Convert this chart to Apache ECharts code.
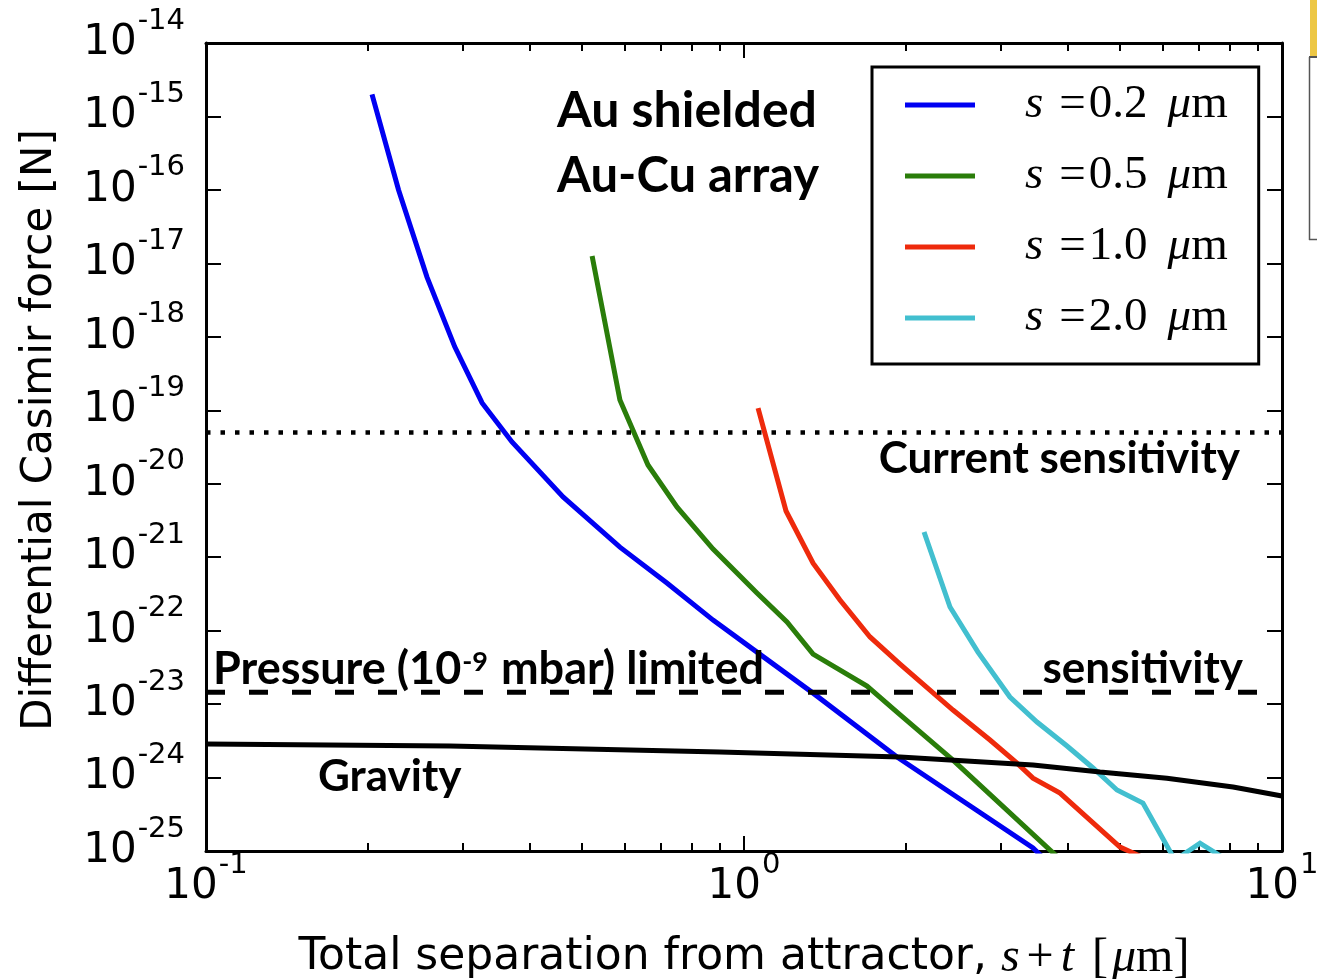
<!DOCTYPE html>
<html>
<head>
<meta charset="utf-8">
<title>Differential Casimir force vs separation</title>
<script src="https://cdn.jsdelivr.net/npm/echarts@6/dist/echarts.min.js"></script>
<style>
  html, body { margin: 0; padding: 0; background: #fff; }
  #chart { width: 1317px; height: 979px; }
</style>
</head>
<body>
<div id="chart"></div>
<script>
// Separation s+t in micrometres, force in newtons.
const sepBlue  = [0.2035, 0.228, 0.2575, 0.290, 0.326, 0.3705, 0.461, 0.588, 0.719, 0.876, 1.057, 1.344, 1.925, 3.445, 3.63];
const forceBlue = [2.0e-15, 1.0e-16, 6.5e-18, 7.3e-19, 1.26e-19, 3.7e-20, 6.6e-21, 1.37e-21, 4.45e-22, 1.39e-22, 5.1e-23, 1.41e-23, 1.9e-24, 1.1e-25, 7.6e-26];

const sepGreen  = [0.522, 0.588, 0.663, 0.751, 0.876, 1.057, 1.202, 1.344, 1.693, 1.925, 2.446, 3.706, 3.87];
const forceGreen = [1.26e-17, 1.38e-19, 1.8e-20, 4.8e-21, 1.29e-21, 3.25e-22, 1.31e-22, 4.8e-23, 1.76e-23, 7.8e-24, 1.73e-24, 1.03e-25, 7.7e-26];

const sepRed  = [1.062, 1.197, 1.344, 1.508, 1.715, 1.95, 2.446, 2.866, 3.217, 3.445, 3.867, 4.397, 5.0, 5.45];
const forceRed = [1.07e-19, 4.25e-21, 8.3e-22, 2.61e-22, 8.2e-23, 3.5e-23, 8.3e-24, 3.24e-24, 1.57e-24, 9.8e-25, 6.15e-25, 2.64e-25, 1.13e-25, 8.5e-26];

const sepCyan  = [2.161, 2.415, 2.722, 3.121, 3.504, 3.985, 4.454, 4.935, 5.515, 6.325, 7.04, 8.0];
const forceCyan = [2.2e-21, 2.1e-22, 5.1e-23, 1.25e-23, 5.7e-24, 2.69e-24, 1.35e-24, 6.76e-25, 4.5e-25, 7.5e-26, 1.28e-25, 7.1e-26];

const sepGravity  = [0.1, 0.284, 0.902, 1.95, 3.445, 4.59, 6.11, 8.11, 10];
const forceGravity = [2.86e-24, 2.69e-24, 2.22e-24, 1.9e-24, 1.48e-24, 1.19e-24, 9.8e-25, 7.43e-25, 5.6e-25];

const sepRange = [0.1, 10];
const currentSensitivity = 5e-20;
const pressureLimit = 1.45e-23;

const legendNames = ['0.2', '0.5', '1.0', '2.0'];
const xTickExponents = [-1, 0, 1];
const yTickExponents = [-25, -24, -23, -22, -21, -20, -19, -18, -17, -16, -15, -14];

// Both axes are decades: values are plotted as log10 on linear value axes.
const lg = Math.log10;
const toPairs = (xs, ys) => xs.map((x, i) => [lg(x), lg(ys[i])]);

const minorX = [];
for (let d = -1; d < 1; d++) {
  for (let k = 2; k <= 9; k++) minorX.push(d + lg(k));
}

const NUM_FONT = 'DejaVu Sans';
const MATH_FONT = 'Liberation Serif';
const NOTE_FONT = 'Lato';

// "10" sits centred in a tall line; the exponent hugs the top of that line.
const powRich = {
  b: { fontFamily: NUM_FONT, fontSize: 42, lineHeight: 73, color: '#000' },
  s: { fontFamily: NUM_FONT, fontSize: 29, lineHeight: 20, verticalAlign: 'top', color: '#000', padding: [0, 0, 0, 1] }
};
const powLabel = v => '{b|10}{s|' + Math.round(v) + '}';

const axisLineStyle = { color: '#000', width: 3 };
const tickStyle = { color: '#000', width: 2 };

function xAxisDef(position, major, withLabels) {
  const ax = {
    type: 'value', min: lg(sepRange[0]), max: lg(sepRange[1]), interval: 1,
    position: position, gridIndex: 0,
    axisLine: { show: major, onZero: false, lineStyle: axisLineStyle },
    axisTick: major
      ? { show: true, inside: true, length: 15, lineStyle: tickStyle }
      : { show: true, inside: true, length: 8, lineStyle: tickStyle, customValues: minorX },
    axisLabel: { show: false },
    splitLine: { show: false }
  };
  if (withLabels) {
    ax.axisLabel = {
      show: true, margin: 0, formatter: powLabel, rich: powRich,
      customValues: xTickExponents
    };
    ax.name = '{n|Total separation from attractor, }{m|s}{p|+}{m|t}{lb|[}{m|μ}{u|m]}';
    ax.nameLocation = 'middle';
    ax.nameGap = 82;
    ax.nameTextStyle = {
      rich: {
        n: { fontFamily: NUM_FONT, fontSize: 44, lineHeight: 50, color: '#000' },
        m: { fontFamily: MATH_FONT, fontStyle: 'italic', fontSize: 48, lineHeight: 50, color: '#000' },
        p: { fontFamily: MATH_FONT, fontSize: 48, lineHeight: 50, color: '#000', padding: [0, 7, 0, 7] },
        lb: { fontFamily: MATH_FONT, fontSize: 48, lineHeight: 50, color: '#000', padding: [0, 4, 0, 18] },
        u: { fontFamily: MATH_FONT, fontSize: 48, lineHeight: 50, color: '#000' }
      }
    };
  }
  return ax;
}

function yAxisDef(position, withLabels) {
  const ax = {
    type: 'value', min: yTickExponents[0], max: yTickExponents[yTickExponents.length - 1], interval: 1,
    position: position, gridIndex: 0,
    axisLine: { show: true, onZero: false, lineStyle: axisLineStyle },
    axisTick: { show: true, inside: true, length: 15, lineStyle: tickStyle },
    axisLabel: { show: false },
    splitLine: { show: false }
  };
  if (withLabels) {
    ax.axisLabel = { show: true, margin: 21, formatter: powLabel, rich: powRich };
    ax.name = 'Differential Casimir force [N]';
    ax.nameLocation = 'middle';
    ax.nameGap = 145;
    ax.nameTextStyle = { fontFamily: NUM_FONT, fontSize: 42, color: '#000', padding: [0, 0, 0, 34] };
  }
  return ax;
}

const curveColors = ['#0000f2', '#2a7d0a', '#ee2a0c', '#42bfcf'];
const curves = [
  [sepBlue, forceBlue], [sepGreen, forceGreen], [sepRed, forceRed], [sepCyan, forceCyan]
];

const series = curves.map((c, i) => ({
  name: legendNames[i],
  type: 'line',
  data: toPairs(c[0], c[1]),
  symbol: 'none',
  clip: true,
  z: 2 + i,
  lineStyle: { color: curveColors[i], width: 5, cap: 'butt', join: 'miter' },
  itemStyle: { color: curveColors[i] }
}));

series.push({
  name: 'Gravity', type: 'line', data: toPairs(sepGravity, forceGravity),
  symbol: 'none', clip: true, z: 8,
  lineStyle: { color: '#000', width: 5 }
});
series.push({
  name: 'Current sensitivity', type: 'line',
  data: toPairs(sepRange, [currentSensitivity, currentSensitivity]),
  symbol: 'none', clip: true, z: 9,
  lineStyle: { color: '#000', width: 4.5, type: [4.5, 10], cap: 'butt' }
});
series.push({
  name: 'Pressure limited', type: 'line',
  data: toPairs(sepRange, [pressureLimit, pressureLimit]),
  symbol: 'none', clip: true, z: 9,
  lineStyle: { color: '#000', width: 5, type: [19, 24], cap: 'butt' }
});

const noteFont = size => 'bold ' + size + 'px ' + NOTE_FONT;
function note(text, x, y, size, align) {
  return {
    type: 'text', x: x, y: y, z: 100,
    style: { text: text, font: noteFont(size), fill: '#000', align: align || 'left', verticalAlign: 'middle' }
  };
}

const option = {
  animation: false,
  backgroundColor: '#fff',
  grid: {
    left: 206, top: 43, width: 1076, height: 808,
    containLabel: false, outerBoundsMode: 'none'
  },
  xAxis: [
    xAxisDef('bottom', true, true),
    xAxisDef('bottom', false, false),
    xAxisDef('top', true, false),
    xAxisDef('top', false, false)
  ],
  yAxis: [yAxisDef('left', true), yAxisDef('right', false)],
  legend: {
    data: legendNames,
    orient: 'vertical',
    left: 872, top: 67,
    padding: [13, 31, 21, 33],
    itemGap: 21,
    itemWidth: 70, itemHeight: 5,
    icon: 'rect',
    backgroundColor: '#fff',
    borderColor: '#000', borderWidth: 3, borderRadius: 0,
    selectedMode: false,
    formatter: name => '{it|s}{eq|=}{rm|' + name + '}{mu|μ}{rm|m}',
    textStyle: {
      padding: [0, 0, 0, 45],
      lineHeight: 50,
      rich: {
        it: { fontFamily: MATH_FONT, fontStyle: 'italic', fontSize: 47, lineHeight: 50, color: '#000' },
        eq: { fontFamily: MATH_FONT, fontSize: 47, lineHeight: 50, color: '#000', padding: [0, 3, 0, 16] },
        mu: { fontFamily: MATH_FONT, fontStyle: 'italic', fontSize: 47, lineHeight: 50, color: '#000', padding: [0, 0, 0, 20] },
        rm: { fontFamily: MATH_FONT, fontSize: 47, lineHeight: 50, color: '#000' }
      }
    }
  },
  series: series,
  graphic: [
    note('Au shielded', 557, 111, 50),
    note('Au-Cu array', 557, 176, 49),
    note('Current sensitivity', 1240, 459, 44, 'right'),
    note('sensitivity', 1243, 669, 44, 'right'),
    note('Gravity', 318, 777, 44),
    {
      type: 'text', x: 213, y: 669, z: 100,
      style: {
        text: '{a|Pressure (10}{s|-9}{a| mbar) limited}',
        align: 'left', verticalAlign: 'middle', fill: '#000',
        rich: {
          a: { font: noteFont(45), lineHeight: 40, fill: '#000' },
          s: { font: noteFont(27), lineHeight: 20, verticalAlign: 'top', fill: '#000', padding: [0, 2, 0, 1] }
        }
      }
    },
    // neighbouring panel edge at the right border
    { type: 'rect', shape: { x: 1310, y: 0, width: 10, height: 57 }, style: { fill: '#edc745' }, z: 100 },
    { type: 'line', shape: { x1: 1309, y1: 57, x2: 1317, y2: 57 }, style: { stroke: '#555', lineWidth: 2 }, z: 100 },
    { type: 'line', shape: { x1: 1309.5, y1: 57, x2: 1309.5, y2: 240 }, style: { stroke: '#555', lineWidth: 1.5 }, z: 100 },
    { type: 'line', shape: { x1: 1309, y1: 239.5, x2: 1317, y2: 239.5 }, style: { stroke: '#555', lineWidth: 1.5 }, z: 100 }
  ]
};

const chart = echarts.init(document.getElementById('chart'), null, { renderer: 'canvas' });
chart.setOption(option);
</script>
</body>
</html>
